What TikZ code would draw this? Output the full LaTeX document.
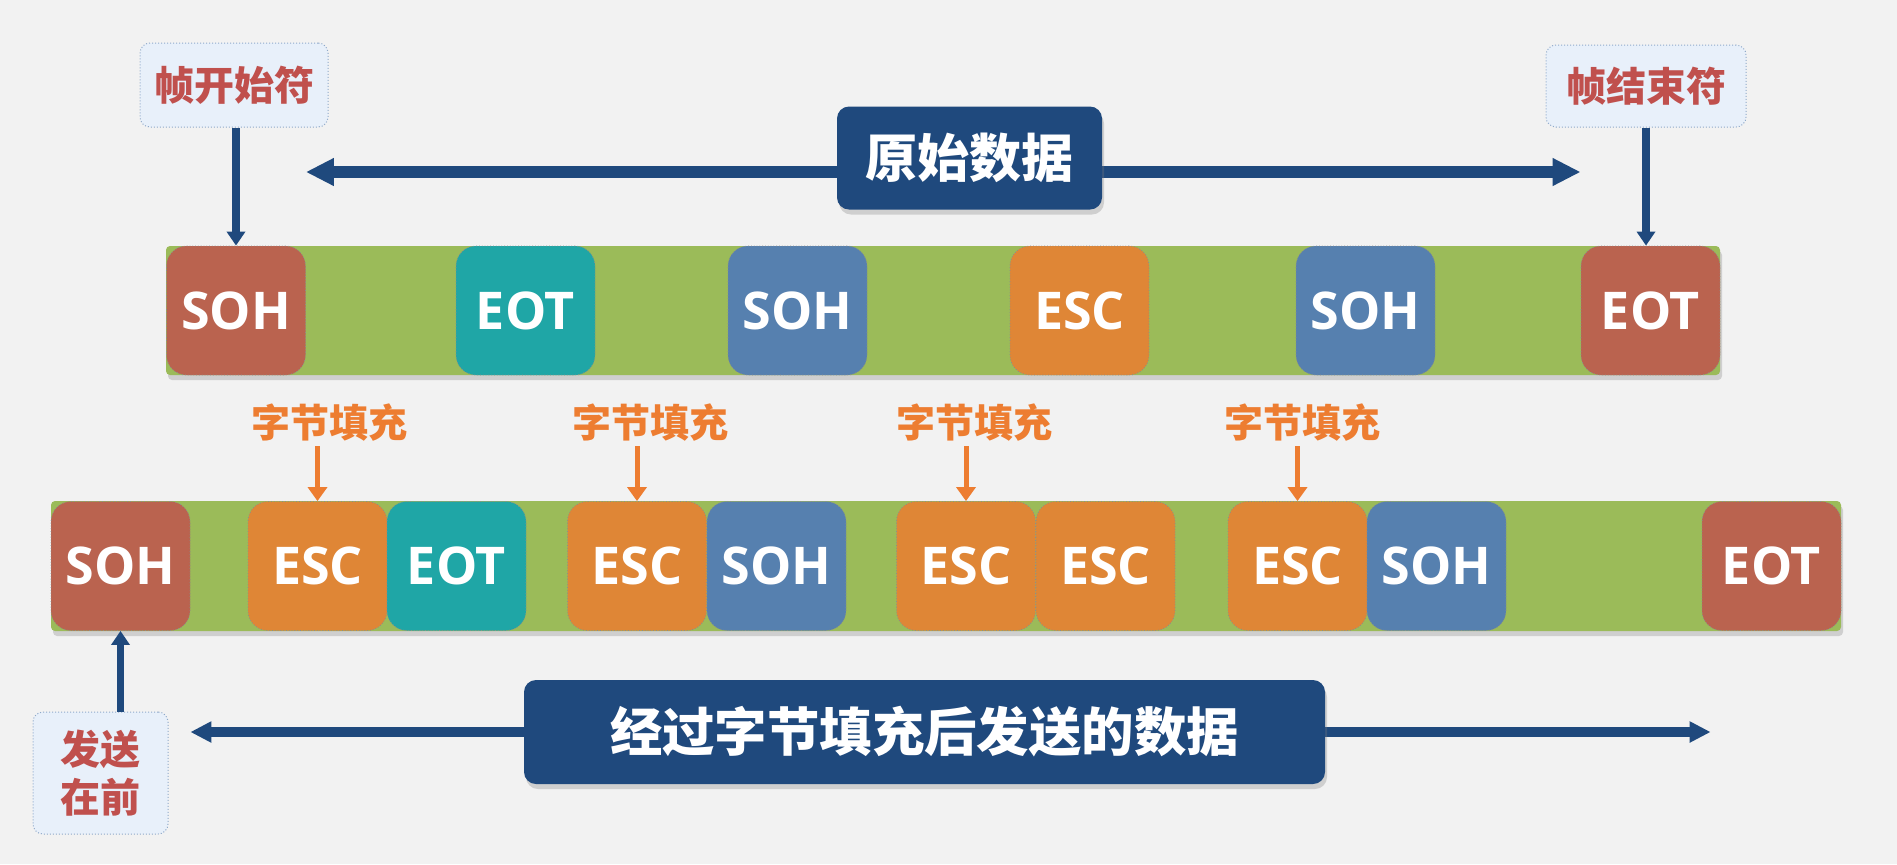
\documentclass[tikz,border=0pt]{standalone}
\usepackage{fontspec}
\setmainfont{Open Sans}
\newfontfamily\cjk{Noto Sans CJK SC}
\usetikzlibrary{arrows.meta, positioning, shadows, calc}
\definecolor{bggray}{HTML}{F2F2F2}
\definecolor{bargreen}{HTML}{9BBB59}
\definecolor{framered}{HTML}{BA634F}
\definecolor{tealbox}{HTML}{1FA6A6}
\definecolor{bluebox}{HTML}{5680AF}
\definecolor{orangebox}{HTML}{DF8636}
\definecolor{navy}{HTML}{1F497D}
\definecolor{lblfill}{HTML}{E8F0FA}
\definecolor{lbldraw}{HTML}{8FA9C9}
\definecolor{lbltext}{HTML}{C0504D}
\definecolor{stufftext}{HTML}{ED7D31}

\begin{document}
\begin{tikzpicture}[x=0.5pt, y=-0.5pt,
  bar/.style={fill=bargreen, rounded corners=2pt,
    drop shadow={shadow xshift=1pt, shadow yshift=-2.5pt, opacity=0.3}},
  byte/.style={rounded corners=10pt, minimum width=69.5pt, minimum height=64.5pt,
    inner sep=0pt, draw=black!45, densely dotted, line width=0.4pt, text=white,
    font=\fontsize{26}{30}\selectfont\bfseries},
  title/.style={fill=navy, rounded corners=6pt, text=white, inner sep=0pt,
    drop shadow={shadow xshift=1pt, shadow yshift=-2.5pt, opacity=0.3},
    font=\cjk\bfseries\fontsize{26}{30}\selectfont},
  tag/.style={fill=lblfill, draw=lbldraw, densely dotted, line width=0.5pt,
    rounded corners=5pt, inner sep=0pt, text=lbltext, align=center,
    font=\cjk\bfseries\fontsize{20}{24}\selectfont},
  stuff/.style={text=stufftext, inner sep=2pt,
    font=\cjk\bfseries\fontsize{19.5}{22}\selectfont},
  navyarrow/.style={draw=navy},
  stuffarrow/.style={draw=stufftext, line width=2.5pt,
    -{Triangle[length=7pt, width=9.5pt]}}]

  % Hintergrund
  \fill[bggray] (0,0) rectangle (1897,864);
  \useasboundingbox (0,0) rectangle (1897,864);

  % Rahmen: Originaldaten
  \fill[bar] (166,246) rectangle (1720,375);
  \foreach \i/\cx/\txt/\col in {1/236/SOH/framered, 2/525.5/EOT/tealbox,
      3/797.5/SOH/bluebox, 4/1079.5/ESC/orangebox, 5/1365.5/SOH/bluebox,
      6/1650.5/EOT/framered}
    \node[byte, fill=\col] (top\i) at (\cx,310.5) {\txt};

  % Rahmen: nach dem Byte-Stuffing
  \fill[bar] (51,501) rectangle (1841,631);
  \foreach \i/\cx/\txt/\col in {1/120.5/SOH/framered, 2/317.5/ESC/orangebox,
      3/456.5/EOT/tealbox, 4/637/ESC/orangebox, 5/776.5/SOH/bluebox,
      6/966/ESC/orangebox, 7/1105.5/ESC/orangebox, 8/1297.5/ESC/orangebox,
      9/1436.5/SOH/bluebox, 10/1771.5/EOT/framered}
    \node[byte, fill=\col] (bot\i) at (\cx,566) {\txt};

  % Beschriftungen oben
  \node[tag, minimum width=94pt, minimum height=42pt] (startlbl) at (234,85) {帧开始符};
  \node[tag, minimum width=100pt, minimum height=41pt] (endlbl) at (1646,86) {帧结束符};
  \draw[navyarrow, line width=3.85pt, -{Triangle[length=7pt, width=9pt]}]
    (top1.north |- startlbl.south) -- (top1.north);
  \draw[navyarrow, line width=3.85pt, -{Triangle[length=7pt, width=9pt]}]
    (endlbl.south) -- (endlbl.south |- top6.north);

  % Originaldaten-Pfeil
  \coordinate (rawmid) at (969.5,172);
  \draw[navyarrow, line width=6pt, {Triangle[length=14pt, width=13pt]}-{Triangle[length=14pt, width=13pt]}]
    (top1.east |- rawmid) -- (top6.west |- rawmid);
  \node[title, minimum width=132.5pt, minimum height=51.5pt] (raw) at (969.5,158) {原始数据};

  % Byte-Stuffing Markierungen
  \foreach \k/\lx/\b in {1/329/2, 2/650/4, 3/974/6, 4/1302/8} {
    \node[stuff] (fill\k) at (\lx,423) {字节填充};
    \draw[stuffarrow] (bot\b.north |- fill\k.south) -- (bot\b.north);
  }

  % gesendete Daten
  \node[tag, minimum width=67.5pt, minimum height=61pt] (sendfirst) at (100.5,773) {发送\\在前};
  \draw[navyarrow, line width=3.85pt, -{Triangle[length=7pt, width=9pt]}]
    (bot1.south |- sendfirst.north) -- (bot1.south);
  \coordinate (sentmid) at (924.5,732);
  \draw[navyarrow, line width=5pt, {Triangle[length=10.5pt, width=10pt]}-{Triangle[length=10.5pt, width=10pt]}]
    (bot1.east |- sentmid) -- ([xshift=4.5pt]bot10.west |- sentmid);
  \node[title, minimum width=400.5pt, minimum height=52pt,
    font=\cjk\bfseries\fontsize{26.2}{30}\selectfont] (sent) at (sentmid) {经过字节填充后发送的数据};
\end{tikzpicture}
\end{document}
